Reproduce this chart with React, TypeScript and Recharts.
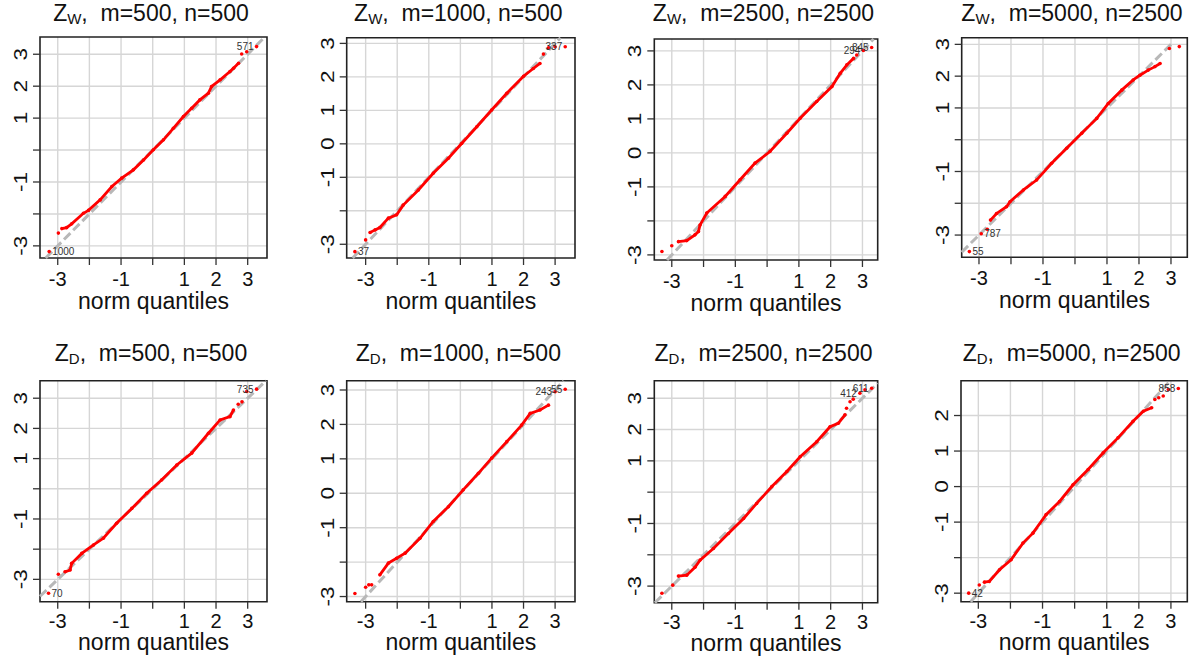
import React from "react";
import {
  ScatterChart, Scatter, XAxis, YAxis, CartesianGrid, ReferenceLine, ReferenceArea,
} from "recharts";

type Pt = { x: number; y: number };
type Tag = { x: number; y: number; text: string; side: "left" | "right" };

const FONT = "'Liberation Sans', Arial, Helvetica, sans-serif";
const AXIS_TICKS = [-3, -2, -1, 0, 1, 2, 3];
const X_LABELED = [-3, -1, 1, 2, 3];

const pts = (a: number[][]): Pt[] => a.map(([x, y]) => ({ x, y }));

// Z_W, m=500, n=500
const zw500Body = pts([
  [-2.87, -2.46], [-2.72, -2.43], [-2.56, -2.31], [-2.19, -1.98], [-2.03, -1.89], [-1.66, -1.56],
  [-1.29, -1.14], [-0.98, -0.88], [-0.61, -0.62], [-0.29, -0.31], [0.02, 0.01], [0.34, 0.32],
  [0.65, 0.68], [0.97, 1.05], [1.23, 1.31], [1.49, 1.57], [1.76, 1.78], [1.86, 1.99],
  [2.13, 2.2], [2.44, 2.46], [2.55, 2.56], [2.71, 2.72],
]);
const zw500Tail = pts([[-3.27, -3.18], [-2.98, -2.6], [2.81, 3.01], [2.97, 3.08], [3.28, 3.24]]);
const zw500Tags: Tag[] = [
  { x: -3.27, y: -3.18, text: "1000", side: "right" },
  { x: 3.28, y: 3.24, text: "571", side: "left" },
];

// Z_W, m=1000, n=500
const zw1000Body = pts([
  [-2.86, -2.65], [-2.7, -2.57], [-2.55, -2.5], [-2.28, -2.22], [-2.02, -2.12], [-1.81, -1.83],
  [-1.33, -1.38], [-0.86, -0.88], [-0.38, -0.43], [0.04, 0.01], [0.52, 0.51], [0.99, 1.01],
  [1.47, 1.51], [2.0, 2.02], [2.31, 2.25], [2.52, 2.4],
]);
const zw1000Tail = pts([[-3.34, -3.22], [-3.0, -2.87], [2.63, 2.68], [2.79, 2.87], [3.0, 2.9], [3.32, 2.9]]);
const zw1000Tags: Tag[] = [
  { x: -3.34, y: -3.22, text: "37", side: "right" },
  { x: 3.32, y: 2.9, text: "337", side: "left" },
];

// Z_W, m=2500, n=2500
const zw2500Body = pts([
  [-2.79, -2.61], [-2.53, -2.58], [-2.27, -2.41], [-2.16, -2.31], [-2.11, -2.12], [-1.9, -1.77],
  [-1.32, -1.28], [-0.85, -0.79], [-0.38, -0.3], [0.09, 0.04], [0.62, 0.58], [1.04, 1.02],
  [1.56, 1.51], [2.04, 1.95], [2.3, 2.34], [2.51, 2.59], [2.72, 2.78],
]);
const zw2500Tail = pts([[-3.31, -2.9], [-3.0, -2.73], [2.82, 2.88], [3.03, 3.01], [3.29, 3.1]]);
const zw2500Tags: Tag[] = [
  { x: 3.03, y: 3.01, text: "294", side: "left" },
  { x: 3.29, y: 3.1, text: "845", side: "left" },
];

// Z_W, m=5000, n=2500
const zw5000Body = pts([
  [-2.64, -2.53], [-2.45, -2.32], [-2.14, -2.11], [-2.03, -1.95], [-1.61, -1.58], [-1.2, -1.27],
  [-0.73, -0.74], [-0.26, -0.27], [0.21, 0.2], [0.68, 0.67], [1.04, 1.14], [1.46, 1.56],
  [1.82, 1.88], [2.03, 2.03], [2.29, 2.19], [2.5, 2.3], [2.66, 2.4],
]);
const zw5000Tail = pts([[-3.3, -3.52], [-2.93, -2.96], [-2.74, -2.82], [2.95, 2.87], [3.26, 2.93]]);
const zw5000Tags: Tag[] = [
  { x: -3.3, y: -3.52, text: "55", side: "right" },
  { x: -2.93, y: -2.96, text: "787", side: "right" },
];

// Z_D, m=500, n=500
const zd500Body = pts([
  [-2.77, -2.75], [-2.61, -2.69], [-2.56, -2.47], [-2.24, -2.14], [-1.87, -1.86], [-1.56, -1.64],
  [-1.14, -1.14], [-0.66, -0.65], [-0.19, -0.15], [0.28, 0.29], [0.76, 0.79], [1.23, 1.18],
  [1.76, 1.84], [2.13, 2.28], [2.44, 2.39], [2.55, 2.61],
]);
const zd500Tail = pts([[-3.29, -3.46], [-2.98, -2.83], [2.7, 2.8], [2.82, 2.88], [2.97, 3.22], [3.28, 3.3]]);
const zd500Tags: Tag[] = [
  { x: -3.29, y: -3.46, text: "70", side: "right" },
  { x: 3.28, y: 3.3, text: "735", side: "left" },
];

// Z_D, m=1000, n=500
const zd1000Body = pts([
  [-2.55, -2.37], [-2.28, -2.03], [-2.02, -1.89], [-1.75, -1.74], [-1.28, -1.31], [-0.86, -0.82],
  [-0.38, -0.39], [0.09, 0.1], [0.57, 0.58], [0.99, 1.02], [1.47, 1.5], [1.94, 1.98],
  [2.21, 2.32], [2.52, 2.42], [2.79, 2.56],
]);
const zd1000Tail = pts([[-3.34, -2.91], [-3.0, -2.73], [-2.9, -2.66], [-2.81, -2.66], [3.0, 2.95], [3.32, 3.02]]);
const zd1000Tags: Tag[] = [
  { x: 3.0, y: 2.95, text: "243", side: "left" },
  { x: 3.32, y: 3.02, text: "55", side: "left" },
];

// Z_D, m=2500, n=2500
const zd2500Body = pts([
  [-2.79, -2.68], [-2.53, -2.65], [-2.27, -2.4], [-2.11, -2.17], [-1.69, -1.8], [-1.22, -1.32],
  [-0.74, -0.84], [-0.33, -0.36], [0.15, 0.18], [0.62, 0.66], [1.04, 1.13], [1.56, 1.61],
  [1.98, 2.09], [2.24, 2.2], [2.45, 2.47],
]);
const zd2500Tail = pts([[-3.31, -3.23], [-2.97, -2.97], [2.5, 2.68], [2.61, 2.89], [2.71, 2.97], [2.92, 3.16], [3.08, 3.27], [3.29, 3.32]]);
const zd2500Tags: Tag[] = [
  { x: 2.92, y: 3.16, text: "412", side: "left" },
  { x: 3.29, y: 3.32, text: "611", side: "left" },
];

// Z_D, m=5000, n=2500
const zd5000Body = pts([
  [-2.81, -2.69], [-2.66, -2.67], [-2.34, -2.34], [-1.98, -2.06], [-1.61, -1.59], [-1.3, -1.31],
  [-0.89, -0.79], [-0.47, -0.42], [-0.05, 0.05], [0.42, 0.48], [0.89, 0.95], [1.35, 1.37],
  [1.82, 1.84], [2.14, 2.12], [2.4, 2.22],
]);
const zd5000Tail = pts([[-3.3, -3.0], [-2.97, -2.77], [2.5, 2.45], [2.62, 2.5], [2.76, 2.55], [2.92, 2.73], [3.23, 2.76]]);
const zd5000Tags: Tag[] = [
  { x: -3.3, y: -3.0, text: "42", side: "right" },
  { x: 3.23, y: 2.76, text: "858", side: "left" },
];

const PANELS = [
  { sub: "W", m: 500, n: 500, body: zw500Body, tail: zw500Tail, tags: zw500Tags, xDomain: [-3.56, 3.61], yDomain: [-3.38, 3.54], yTicks: AXIS_TICKS, yLabeled: [-3, -1, 1, 2, 3], lineEnd: 9 },
  { sub: "W", m: 1000, n: 500, body: zw1000Body, tail: zw1000Tail, tags: zw1000Tags, xDomain: [-3.6, 3.63], yDomain: [-3.41, 3.17], yTicks: AXIS_TICKS, yLabeled: [-3, -1, 0, 1, 2, 3], lineEnd: 9 },
  { sub: "W", m: 2500, n: 2500, body: zw2500Body, tail: zw2500Tail, tags: zw2500Tags, xDomain: [-3.55, 3.48], yDomain: [-3.15, 3.35], yTicks: AXIS_TICKS, yLabeled: [-3, -1, 0, 1, 2, 3], lineEnd: 9 },
  { sub: "W", m: 5000, n: 2500, body: zw5000Body, tail: zw5000Tail, tags: zw5000Tags, xDomain: [-3.54, 3.51], yDomain: [-3.7, 3.21], yTicks: AXIS_TICKS, yLabeled: [-3, -1, 1, 2, 3], lineEnd: 3.05 },
  { sub: "D", m: 500, n: 500, body: zd500Body, tail: zd500Tail, tags: zd500Tags, xDomain: [-3.56, 3.61], yDomain: [-3.74, 3.58], yTicks: AXIS_TICKS, yLabeled: [-3, -1, 1, 2, 3], lineEnd: 9 },
  { sub: "D", m: 1000, n: 500, body: zd1000Body, tail: zd1000Tail, tags: zd1000Tags, xDomain: [-3.6, 3.63], yDomain: [-3.15, 3.27], yTicks: AXIS_TICKS, yLabeled: [-3, -1, 0, 1, 2, 3], lineEnd: 9 },
  { sub: "D", m: 2500, n: 2500, body: zd2500Body, tail: zd2500Tail, tags: zd2500Tags, xDomain: [-3.55, 3.48], yDomain: [-3.53, 3.56], yTicks: AXIS_TICKS, yLabeled: [-3, -1, 1, 2, 3], lineEnd: 9 },
  { sub: "D", m: 5000, n: 2500, body: zd5000Body, tail: zd5000Tail, tags: zd5000Tags, xDomain: [-3.54, 3.51], yDomain: [-3.24, 2.98], yTicks: [-3, -2, -1, 0, 1, 2], yLabeled: [-3, -1, 0, 1, 2], lineEnd: 9 },
];

// plot box of each panel, in panel pixels
const LAYOUT = [
  { col: 0, row: 0, l: 40, t: 37, r: 267, b: 258 },
  { col: 1, row: 0, l: 46.7, t: 37.7, r: 275, b: 258 },
  { col: 2, row: 0, l: 54.3, t: 39, r: 277.7, b: 260 },
  { col: 3, row: 0, l: 61.7, t: 37.7, r: 287.3, b: 257.3 },
  { col: 0, row: 1, l: 40, t: 50.7, r: 267, b: 271.7 },
  { col: 1, row: 1, l: 46.7, t: 50.7, r: 275, b: 271.7 },
  { col: 2, row: 1, l: 54.3, t: 50.7, r: 277.7, b: 272.7 },
  { col: 3, row: 1, l: 61, t: 50.7, r: 287.3, b: 271.7 },
];

const RedDot = (props: any) => <circle cx={props.cx} cy={props.cy} r={1.8} fill="#ff0000" />;

const TagText = (props: any) => {
  const { cx, cy, payload } = props;
  const left = payload.side === "left";
  return (
    <text x={left ? cx - 3 : cx + 3} y={cy + 3.5} textAnchor={left ? "end" : "start"}
      fontSize={10} fontFamily={FONT} fill="#333">
      {payload.text}
    </text>
  );
};

function Panel({ cfg, lay }: { cfg: any; lay: any }) {
  const W = 300;
  const H = lay.row === 0 ? 330 : 331;
  const xAxisH = 50;
  const off = lay.row === 0 ? { tick: 28, label: 51, title: 21 } : { tick: 26.5, label: 48.5, title: 31 };
  const [x0, x1] = cfg.xDomain;
  const [y0, y1] = cfg.yDomain;
  const s0 = Math.max(x0, y0);
  const s1 = Math.min(x1, y1, cfg.lineEnd);

  const xTick = (p: any) => {
    if (!X_LABELED.includes(p.payload.value)) return <g />;
    return (
      <text x={p.x} y={lay.b + off.tick} textAnchor="middle" fontSize={20} fontFamily={FONT} fill="#111">
        {p.payload.value}
      </text>
    );
  };
  const yTick = (p: any) => {
    if (!cfg.yLabeled.includes(p.payload.value)) return <g />;
    return (
      <text transform={`translate(${lay.l - 13},${p.y}) rotate(-90) scale(1.25,1)`} textAnchor="middle"
        fontSize={18} fontFamily={FONT} fill="#111">
        {p.payload.value}
      </text>
    );
  };
  const xLabel = (
    <text x={(lay.l + lay.r) / 2} y={lay.b + off.label} textAnchor="middle" fontSize={23} fontFamily={FONT} fill="#111">
      norm quantiles
    </text>
  );

  return (
    <div style={{ position: "absolute", left: lay.col * 300, top: lay.row * 330, width: W, height: H }}>
      <ScatterChart width={W} height={H}
        margin={{ top: lay.t, right: W - lay.r, left: 0, bottom: H - lay.b - xAxisH }}>
        <CartesianGrid stroke="#d6d6d6" strokeWidth={1.4} verticalValues={AXIS_TICKS} horizontalValues={cfg.yTicks} />
        <XAxis type="number" dataKey="x" domain={cfg.xDomain} allowDataOverflow ticks={AXIS_TICKS} interval={0}
          height={xAxisH} tickSize={7} axisLine={false} tickLine={{ stroke: "#333", strokeWidth: 1.3 }}
          tick={xTick} label={{ content: () => xLabel }} />
        <YAxis type="number" dataKey="y" domain={cfg.yDomain} allowDataOverflow ticks={cfg.yTicks} interval={0}
          width={lay.l} tickSize={7} axisLine={false} tickLine={{ stroke: "#333", strokeWidth: 1.3 }} tick={yTick} />
        <ReferenceLine segment={[{ x: s0, y: s0 }, { x: s1, y: s1 }]} stroke="#b8b8b8" strokeWidth={3}
          strokeDasharray="9 4" />
        <Scatter data={cfg.body} shape={RedDot} line={{ stroke: "#ff0000", strokeWidth: 2.8 }} isAnimationActive={false} />
        <Scatter data={cfg.tail} shape={RedDot} isAnimationActive={false} />
        <Scatter data={cfg.tags} shape={TagText} isAnimationActive={false} />
        <ReferenceArea x1={x0} x2={x1} y1={y0} y2={y1} fill="none" stroke="#222" strokeWidth={1.6} />
      </ScatterChart>
      <svg width={W} height={45} style={{ position: "absolute", left: 0, top: 0, pointerEvents: "none" }}>
        <text x={(lay.l + lay.r) / 2 - 2.5} y={off.title} textAnchor="middle" fontSize={23} fontFamily={FONT}
          fill="#111" xmlSpace="preserve" style={{ whiteSpace: "pre" }}>
          <tspan>Z</tspan>
          <tspan fontSize={15} dy={2.5}>{cfg.sub}</tspan>
          <tspan dy={-2.5}>{`,  m=${cfg.m}, n=${cfg.n}`}</tspan>
        </text>
      </svg>
    </div>
  );
}

export default function App() {
  return (
    <div style={{ position: "absolute", left: 0, top: 0, width: 1200, height: 661, background: "#fff", overflow: "hidden" }}>
      {PANELS.map((cfg, i) => (
        <Panel key={i} cfg={cfg} lay={LAYOUT[i]} />
      ))}
    </div>
  );
}
